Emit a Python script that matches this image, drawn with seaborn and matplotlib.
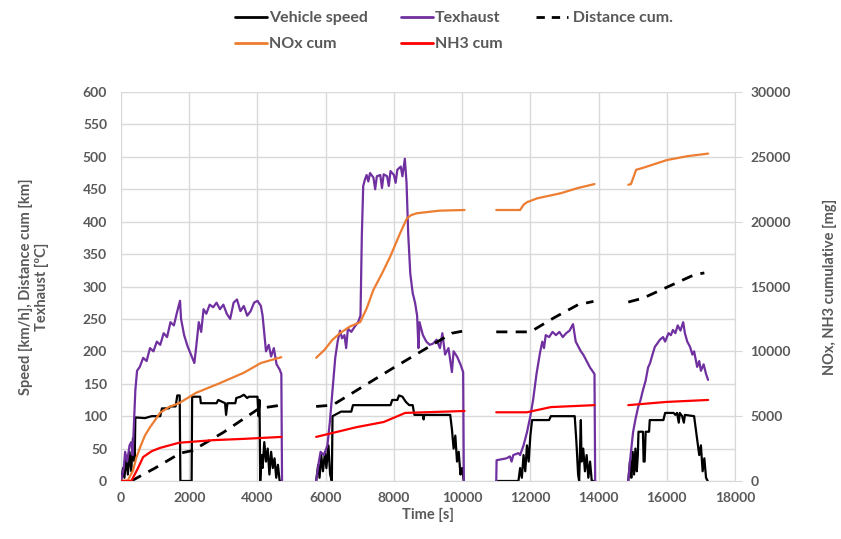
import numpy as np
import pandas as pd
import matplotlib
matplotlib.use("Agg")
import matplotlib.pyplot as plt
from matplotlib.lines import Line2D
import seaborn as sns

# segments are separated by None (recording gaps)
speed_t = [0, 60, 100, 150, 200, 250, 300, 350, 400, 420, 700, 900, 1150, 1200, 1400, 1450, 1600, 1650, 1720, 1740,
           2070, 2085, 2320, 2340, 2800, 2850, 3050, 3080, 3120, 3350, 3380, 3500, 3600, 3700,
           3750, 4000, 4030, 4060, 4080, 4120, 4150, 4200, 4250, 4300, 4350, 4400, 4450, 4500, 4550, 4600, 4650, 4700,
           None,
           5720, 5780, 5820, 5870, 5920, 5980, 6020, 6080, 6130, 6180, 6200, 6450, 6750, 6800, 7900, 7950, 8100, 8150,
           8250, 8350, 8450, 8550, 8600, 8850, 8870, 8890, 9650, 9700, 9750, 9800, 9850, 9900, 9950, 10000, 10050,
           None,
           11000, 11650, 11700, 11750, 11800, 11850, 11900, 11950, 12000, 12050, 12550, 12600, 13300, 13350, 13400,
           13430, 13480, 13500, 13550, 13600, 13650, 13700, 13750, 13800, 13900,
           None,
           14870, 14920, 14960, 15000, 15040, 15080, 15120, 15150, 15170, 15300, 15320, 15350, 15380, 15480, 15500,
           15900, 15950, 16200, 16250, 16300, 16350, 16380, 16450, 16500, 16530, 16800, 16850, 16900, 16950, 17000,
           17050, 17100, 17150, 17200]
speed_v = [0, 20, 5, 35, 10, 45, 15, 66, 30, 98, 97, 100, 100, 112, 112, 115, 115, 132, 132, 0,
           0, 130, 130, 120, 120, 125, 120, 102, 120, 120, 128, 130, 133, 128,
           130, 130, 100, 125, 0, 40, 20, 60, 30, 50, 10, 45, 20, 35, 5, 25, 0, 0,
           None,
           0, 25, 5, 40, 15, 45, 20, 55, 10, 0, 100, 107, 107, 117, 117, 125, 125, 132,
           130, 122, 117, 117, 102, 102, 95, 102, 102, 80, 50, 70, 30, 45, 10, 20, 0,
           None,
           0, 0, 20, 5, 40, 15, 55, 30, 70, 94, 94, 100, 100, 60, 10,
           0, 94, 30, 50, 15, 40, 5, 30, 0, 0,
           None,
           0, 30, 5, 45, 10, 50, 15, 40, 76, 76, 30, 30, 76, 76, 94,
           94, 105, 105, 102, 105, 90, 105, 100, 90, 102, 100, 80, 60, 40, 55,
           15, 35, 5, 0]

texh_t = [0, 80, 120, 180, 250, 300, 340, 380, 420, 470, 550, 650, 750, 850, 950, 1050, 1150, 1250, 1350, 1450,
          1550, 1650, 1730, 1760, 1850, 1950, 2050, 2150, 2200, 2280, 2350, 2420, 2500, 2600, 2700, 2800, 2900, 3000,
          3100, 3200, 3300, 3400, 3500, 3600, 3700, 3800, 3900, 4000, 4100, 4150, 4250, 4330, 4400, 4480, 4560, 4650,
          4700, 4720,
          None,
          5720, 5800, 5850, 5950, 6050, 6120, 6200, 6280, 6350, 6420, 6480, 6550, 6600, 6650, 6750, 6850, 6950, 7020,
          7060, 7100, 7150, 7200, 7250, 7300, 7400, 7450, 7500, 7600, 7650, 7700, 7800, 7850, 7900, 8000, 8050, 8100,
          8200, 8250, 8320, 8370, 8420, 8480, 8550, 8620, 8680, 8720, 8750, 8850, 8950, 9050, 9150, 9250, 9350, 9420,
          9500, 9600, 9700, 9750, 9850, 9950, 10030, 10050,
          None,
          11000, 11010, 11300, 11400, 11450, 11500, 11650, 11700, 11800, 11900, 12000, 12080, 12180, 12280, 12350,
          12400, 12450, 12550, 12650, 12750, 12850, 12950, 13050, 13150, 13250, 13330, 13400, 13480, 13550, 13650,
          13750, 13880, 13900,
          None,
          14870, 14920, 14970, 15010, 15080, 15160, 15230, 15300, 15380, 15450, 15510, 15580, 15650, 15720, 15800,
          15890, 15950, 16050, 16120, 16180, 16250, 16320, 16400, 16480, 16530, 16600, 16680, 16750, 16800, 16890,
          16950, 17000, 17080, 17150, 17210]
texh_v = [0, 20, 45, 30, 55, 60, 40, 90, 140, 170, 176, 190, 185, 205, 200, 215, 210, 228, 222, 245,
          240, 262, 278, 250, 225, 208, 195, 182, 205, 245, 230, 265, 258, 272, 268, 275, 265, 272,
          258, 250, 275, 280, 262, 270, 255, 262, 275, 278, 270, 255, 200, 210, 192, 205, 180, 172,
          165, 0,
          None,
          0, 30, 45, 40, 55, 90, 140, 190, 215, 232, 220, 225, 205, 235, 230, 238, 245, 255,
          380, 455, 465, 472, 462, 475, 468, 450, 470, 472, 452, 473, 470, 455, 478, 472, 460, 480,
          485, 470, 497, 460, 380, 320, 290, 275, 255, 205, 245, 225, 215, 210, 212, 218, 205, 228,
          195, 205, 168, 200, 192, 180, 168, 0,
          None,
          0, 32, 35, 38, 30, 40, 43, 40, 55, 75, 100, 125, 165, 197, 215,
          205, 225, 222, 230, 225, 230, 222, 228, 232, 242, 215, 208, 200, 195, 185,
          175, 165, 0,
          None,
          0, 30, 55, 75, 95, 114, 125, 140, 155, 175, 182, 195, 207, 212, 218,
          222, 215, 228, 225, 233, 228, 240, 232, 245, 228, 215, 207, 195, 200, 176,
          185, 170, 180, 165, 156]

dist_t = [300, 1000, 1740, 2100, 3000, 4050, 4700, None,
          5720, 6200, 8000, 9700, 10000, None,
          11000, 12000, 12700, 13400, 13850, None,
          14870, 15300, 16800, 17100]
dist_v = [0, 20, 43, 47, 75, 112, 117, None,
          115, 117, 175, 228, 231, None,
          230, 230, 252, 272, 277, None,
          276, 282, 318, 321]

nox_t = [0, 200, 350, 450, 560, 700, 850, 1000, 1140, 1400, 1700, 2200, 2900, 3600, 4100, 4700, None,
         5720, 5960, 6200, 6420, 6700, 7010, 7200, 7400, 7650, 7890, 8180, 8380, 8500, 8670, 9340, 10070, None,
         11000, 11700, 11800, 11900, 12200, 12900, 13400, 13880, None,
         14870, 14950, 15100, 15300, 16000, 16600, 17210]
nox_v = [0, 50, 800, 1800, 2600, 3500, 4150, 4700, 5250, 5700, 6000, 6800, 7550, 8350, 9100, 9550, None,
         9500, 10100, 10900, 11400, 11900, 12250, 13300, 14750, 16000, 17300, 19100, 20250, 20500, 20650, 20850,
         20900, None,
         20900, 20900, 21300, 21500, 21800, 22200, 22600, 22900, None,
         22850, 22900, 24000, 24150, 24750, 25050, 25250]

nh3_t = [0, 300, 470, 650, 900, 1140, 1700, 2700, 3600, 4700, None,
         5720, 6900, 7700, 8330, 10070, None,
         11000, 11900, 12600, 13880, None,
         14870, 16000, 17210]
nh3_v = [0, 0, 850, 1850, 2300, 2550, 2950, 3150, 3250, 3400, None,
         3400, 4150, 4550, 5250, 5400, None,
         5300, 5300, 5700, 5850, None,
         5850, 6100, 6250]


def to_frame(t, v):
    seg, rows = 0, []
    for ti, vi in zip(t, v):
        if ti is None:
            seg += 1
            continue
        rows.append((ti, vi, seg))
    return pd.DataFrame(rows, columns=["t", "v", "seg"])


sns.set_style("white")
plt.rcParams['font.family'] = ['Lato', 'DejaVu Sans']
txt = '#595959'
grid = '#D9D9D9'

fig = plt.figure(figsize=(8.41, 5.39), dpi=100)
ax = fig.add_axes([0.1439, 0.1076, 0.7301, 0.7217])
ax2 = ax.twinx()

lw = 1.6
sns.lineplot(data=to_frame(speed_t, speed_v), x="t", y="v", units="seg", estimator=None,
             color="black", lw=lw, ax=ax)
sns.lineplot(data=to_frame(texh_t, texh_v), x="t", y="v", units="seg", estimator=None,
             color="#7030A0", lw=lw, ax=ax)
sns.lineplot(data=to_frame(dist_t, dist_v), x="t", y="v", units="seg", estimator=None,
             color="black", lw=2, ax=ax, linestyle=(0, (4, 3)))
sns.lineplot(data=to_frame(nox_t, nox_v), x="t", y="v", units="seg", estimator=None,
             color="#ED7D31", lw=lw, ax=ax2)
sns.lineplot(data=to_frame(nh3_t, nh3_v), x="t", y="v", units="seg", estimator=None,
             color="#FF0000", lw=lw, ax=ax2)

ax.set_xlim(0, 18000)
ax.set_ylim(0, 600)
ax2.set_ylim(0, 30000)
ax.set_xticks(range(0, 18001, 2000))
ax.set_yticks(range(0, 601, 50))
ax2.set_yticks(range(0, 30001, 5000))
ax.grid(True, color=grid, lw=1)
ax.set_axisbelow(True)

for a in (ax, ax2):
    for s in a.spines.values():
        s.set_visible(False)
    a.tick_params(colors=txt, labelsize=10, length=0)
    for lab in a.get_xticklabels() + a.get_yticklabels():
        lab.set_fontweight('bold')
ax.spines['bottom'].set_visible(True)
ax.spines['bottom'].set_color(grid)
ax2.spines['right'].set_visible(True)
ax2.spines['right'].set_color(grid)
ax2.tick_params(axis='y', length=5, color=grid, pad=6)
ax.tick_params(axis='y', pad=10)
ax.tick_params(axis='x', pad=8)

ax.set_xlabel("Time [s]", color=txt, fontsize=10.5, fontweight='bold', labelpad=3)
ax.set_ylabel("Speed [km/h], Distance cum [km]\nTexhaust [ºC]", color=txt, fontsize=10.5,
              fontweight='bold', labelpad=24)
ax2.set_ylabel("NOx, NH3 cumulative [mg]", color=txt, fontsize=10.5, fontweight='bold', labelpad=23)

handles = [Line2D([], [], color="black", lw=2),
           Line2D([], [], color="#ED7D31", lw=2),
           Line2D([], [], color="#7030A0", lw=2),
           Line2D([], [], color="#FF0000", lw=2),
           Line2D([], [], color="black", lw=2, linestyle=(0, (3, 2.5)))]
labels = ["Vehicle speed", "NOx cum", "Texhaust", "NH3 cum", " Distance cum."]
leg = fig.legend(handles, labels, ncol=3, loc="center", bbox_to_anchor=(0.54, 0.942),
                 frameon=False, handlelength=2.0, handletextpad=0.1, columnspacing=2.1,
                 labelspacing=0.75, prop={'size': 11.5, 'weight': 'bold'})
for t in leg.get_texts():
    t.set_color(txt)

fig.savefig("out.png", dpi=100)
